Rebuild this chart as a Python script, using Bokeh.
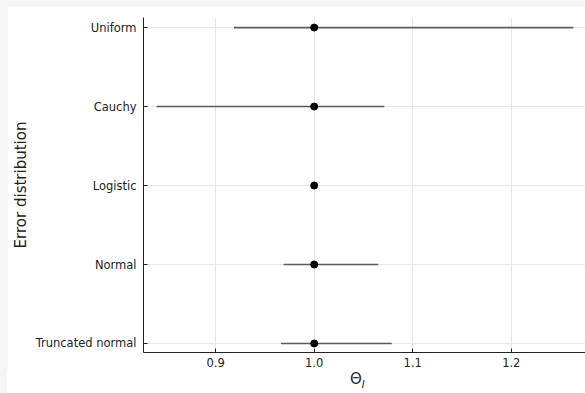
from bokeh.plotting import figure
from bokeh.models import ColumnDataSource, FixedTicker, PrintfTickFormatter, Range1d, Div
from bokeh.layouts import column
from bokeh.embed import file_html
from bokeh.resources import INLINE

categories = ["Uniform", "Cauchy", "Logistic", "Normal", "Truncated normal"]
positions = [5, 4, 3, 2, 1]
estimate = [1.0, 1.0, 1.0, 1.0, 1.0]
lower = [0.9186, 0.8400, 0.9990, 0.9690, 0.9663]
upper = [1.2629, 1.0711, 1.0010, 1.0650, 1.0787]
x_ticks = [0.9, 1.0, 1.1, 1.2]

src = ColumnDataSource(dict(y=positions, x=estimate, lo=lower, hi=upper))

p = figure(width=578, height=365, output_backend="svg", toolbar_location=None,
           x_range=Range1d(0.8268, 1.2753), y_range=Range1d(0.886, 5.127),
           min_border_left=136, min_border_right=0, min_border_top=11, min_border_bottom=19,
           margin=(6, 0, 0, 7))
p.background_fill_color = "white"
p.border_fill_color = "white"
p.outline_line_color = None

p.segment(x0="lo", x1="hi", y0="y", y1="y", source=src, line_color="#5a5a5a", line_width=1.7)
p.scatter(x="x", y="y", source=src, size=7, fill_color="black", line_color="black")

for ax in (p.xaxis, p.yaxis):
    ax.major_tick_in = 4
    ax.major_tick_out = 0
    ax.minor_tick_line_color = None
    ax.axis_line_color = "#222222"
    ax.major_tick_line_color = "#222222"
    ax.major_label_text_font = "DejaVu Sans"
    ax.major_label_text_font_size = "11.5px"
    ax.major_label_text_color = "#222222"
    ax.axis_label_text_font = "DejaVu Sans"
    ax.axis_label_text_font_style = "normal"
    ax.axis_label_text_color = "#222222"

p.xaxis.ticker = FixedTicker(ticks=x_ticks)
p.xaxis.formatter = PrintfTickFormatter(format="%.1f")
p.xaxis.major_label_standoff = 5

p.yaxis.ticker = FixedTicker(ticks=positions)
p.yaxis.major_label_overrides = {pos: c for pos, c in zip(positions, categories)}
p.yaxis.major_label_standoff = 7
p.yaxis.axis_label = "Error distribution"
p.yaxis.axis_label_text_font_size = "15px"
p.yaxis.axis_label_standoff = 3

p.xgrid.ticker = FixedTicker(ticks=x_ticks)
p.ygrid.ticker = FixedTicker(ticks=positions)
p.grid.grid_line_color = "#e6e6e6"
p.grid.grid_line_width = 1

xlabel = Div(text='Θ<sub style="font-style:italic;font-size:10px;">I</sub>',
             width=578, height=22, margin=(0, 0, 0, 7),
             styles={"font-family": "DejaVu Sans", "font-size": "15px", "color": "#222222",
                     "padding-left": "343px", "padding-top": "0px", "line-height": "16px",
                     "background-color": "white", "box-sizing": "border-box"})

layout = column(p, xlabel, width=585, height=393, spacing=0,
                styles={"background-color": "#f5f5f5"})

open("out.html", "w").write(file_html(layout, INLINE))
